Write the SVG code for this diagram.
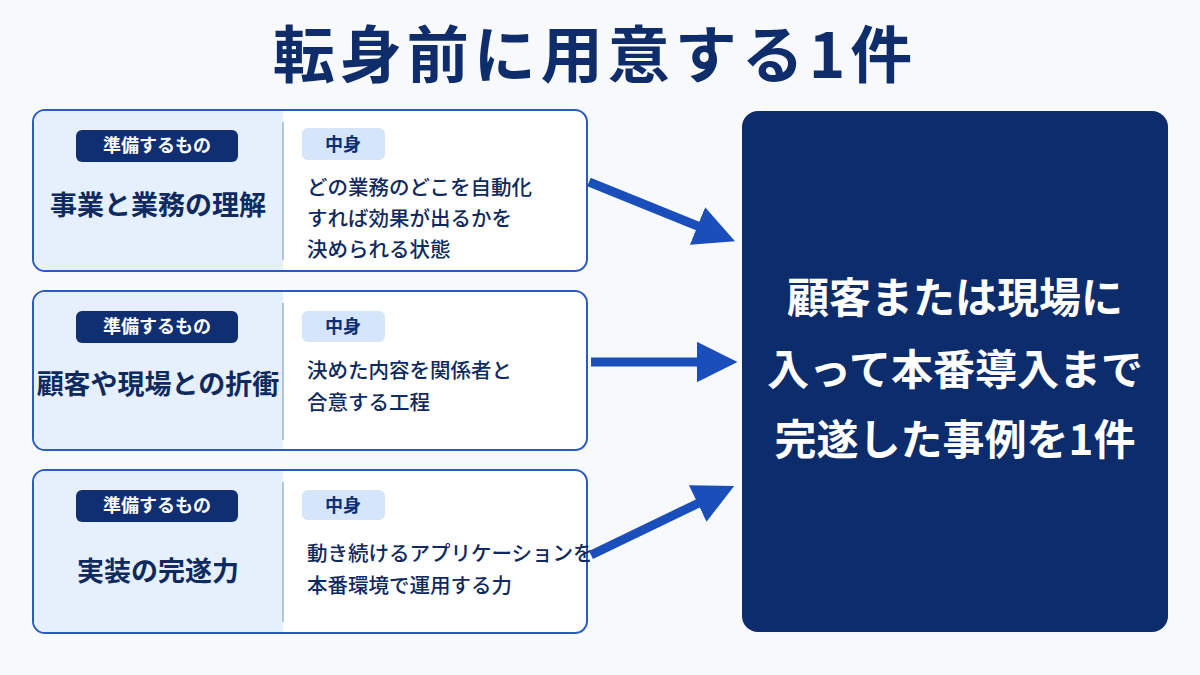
<svg xmlns="http://www.w3.org/2000/svg" width="1200" height="675" viewBox="0 0 1200 675">
<defs>
<style>
text{font-family:"Noto Sans CJK JP","Noto Sans",sans-serif;font-weight:700}
.card{fill:#fff;stroke:#2a5bc0;stroke-width:2}
.left{fill:#e6f0fc}
.div{stroke:#9bb3d9;stroke-width:1.5}
.badge{fill:#0f2f72}
.bt{fill:#fff;font-size:18px;text-anchor:middle}
.sub{fill:#d5e5fa}
.st{fill:#0f2f72;font-size:18px;text-anchor:middle}
.lab{fill:#0f2a5e;font-size:27px;text-anchor:middle}
.body{fill:#0f2a5e;font-size:20.5px;font-weight:500}
.arr{stroke:#1a4fbb;stroke-width:9;fill:none}
.rt{fill:#fff;font-size:42px;text-anchor:middle}
</style>
<marker id="ah" viewBox="0 0 10 10" refX="2" refY="5" markerWidth="4.5" markerHeight="4.5" orient="auto" markerUnits="strokeWidth"><path d="M0,0 L10,5 L0,10 z" fill="#1a4fbb"/></marker>
</defs>
<rect width="1200" height="675" fill="#f8f9fb"/>
<text x="595" y="78" font-size="62" letter-spacing="5" fill="#0f2d6b" text-anchor="middle" font-weight="900">転身前に用意する1件</text>
<g id="card1">
<rect class="card" x="33" y="110" width="554" height="161" rx="12"/>
<path class="left" d="M45,111 H283 V270 H45 A11,11 0 0 1 34,259 V122 A11,11 0 0 1 45,111z"/>
<line class="div" x1="283" y1="122" x2="283" y2="260"/>
<rect class="badge" x="76" y="130" width="162" height="32" rx="6"/><text class="bt" x="157" y="152">準備するもの</text>
<text class="lab" x="158" y="215">事業と業務の理解</text>
<rect class="sub" x="302" y="128" width="83" height="32" rx="6"/><text class="st" x="343" y="151">中身</text>
<text class="body" x="307" y="195">どの業務のどこを自動化</text>
<text class="body" x="307" y="226">すれば効果が出るかを</text>
<text class="body" x="307" y="257">決められる状態</text>
</g>
<g id="card2">
<rect class="card" x="33" y="291" width="554" height="159" rx="12"/>
<path class="left" d="M45,292 H283 V449 H45 A11,11 0 0 1 34,438 V303 A11,11 0 0 1 45,292z"/>
<line class="div" x1="283" y1="303" x2="283" y2="440"/>
<rect class="badge" x="76" y="311" width="162" height="32" rx="6"/><text class="bt" x="157" y="333">準備するもの</text>
<text class="lab" x="158" y="394" font-size="25.5">顧客や現場との折衝</text>
<rect class="sub" x="302" y="311" width="83" height="31" rx="6"/><text class="st" x="343" y="333">中身</text>
<text class="body" x="307" y="378">決めた内容を関係者と</text>
<text class="body" x="307" y="410">合意する工程</text>
</g>
<g id="card3">
<rect class="card" x="33" y="470" width="554" height="163" rx="12"/>
<path class="left" d="M45,471 H283 V632 H45 A11,11 0 0 1 34,621 V482 A11,11 0 0 1 45,471z"/>
<line class="div" x1="283" y1="482" x2="283" y2="622"/>
<rect class="badge" x="76" y="490" width="162" height="32" rx="6"/><text class="bt" x="157" y="512">準備するもの</text>
<text class="lab" x="158" y="581" font-size="35">実装の完遂力</text>
<rect class="sub" x="302" y="490" width="83" height="30" rx="6"/><text class="st" x="343" y="512">中身</text>
<text class="body" x="307" y="561">動き続けるアプリケーションを</text>
<text class="body" x="307" y="593">本番環境で運用する力</text>
</g>
<g id="connectors">
<line class="arr" x1="589" y1="182" x2="705" y2="229" marker-end="url(#ah)"/>
<line class="arr" x1="591" y1="362" x2="705" y2="362" marker-end="url(#ah)"/>
<line class="arr" x1="591" y1="555" x2="705" y2="500" marker-end="url(#ah)"/>
</g>
<g id="result">
<rect x="742" y="111" width="426" height="521" rx="16" fill="#0d2c6c"/>
<text class="rt" x="955" y="313">顧客または現場に</text>
<text class="rt" x="955" y="385">入って本番導入まで</text>
<text class="rt" x="955" y="455">完遂した事例を1件</text>
</g>
</svg>
